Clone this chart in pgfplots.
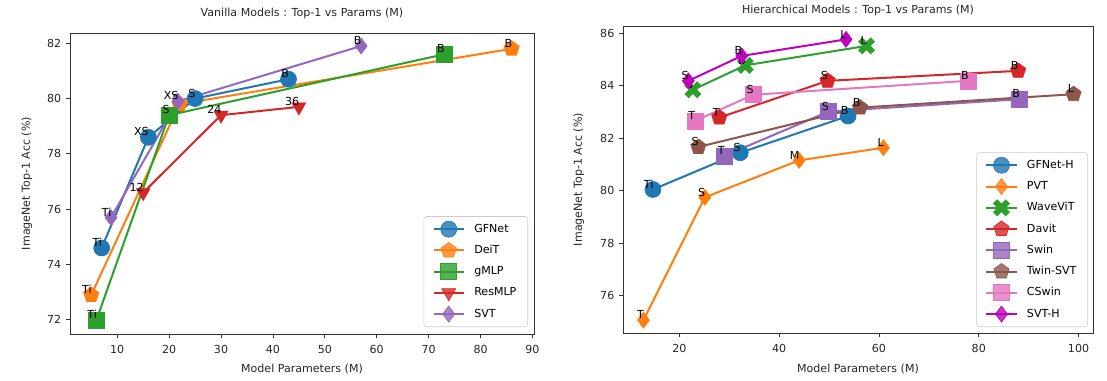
\documentclass[border=0pt]{standalone}
\usepackage{fontspec}
\setmainfont{DejaVu Sans}
\usepackage{pgfplots}
\pgfplotsset{compat=1.18}
\definecolor{cblue}{HTML}{1F77B4}
\definecolor{corange}{HTML}{FF7F0E}
\definecolor{cgreen}{HTML}{2CA02C}
\definecolor{cred}{HTML}{D62728}
\definecolor{cpurple}{HTML}{9467BD}
\definecolor{cbrown}{HTML}{8C564B}
\definecolor{cpink}{HTML}{E377C2}
\definecolor{cmag}{HTML}{BF00BF}
\pgfdeclareplotmark{Xfill}{%
  \pgfsetlinewidth{0.75\pgfplotmarksize}%
  \pgfsetbuttcap
  \pgfpathmoveto{\pgfpoint{-0.8\pgfplotmarksize}{-0.8\pgfplotmarksize}}%
  \pgfpathlineto{\pgfpoint{0.8\pgfplotmarksize}{0.8\pgfplotmarksize}}%
  \pgfpathmoveto{\pgfpoint{-0.8\pgfplotmarksize}{0.8\pgfplotmarksize}}%
  \pgfpathlineto{\pgfpoint{0.8\pgfplotmarksize}{-0.8\pgfplotmarksize}}%
  \pgfusepathqstroke
}
\newcommand\fs{\fontsize{8.3}{10}\selectfont}
\pgfplotsset{
  mystyle/.style={
    scale only axis,
    clip=false,
    axis line style={black!80, line width=0.6pt},
    tick pos=left, tick align=outside, major tick length=3pt,
    every tick/.style={black!80, line width=0.6pt},
    tick label style={font=\fs, text=black!85},
    xticklabel style={yshift=-2pt},
    /pgf/number format/assume math mode=true,
    label style={font=\fs, text=black!85},
    title style={font=\fs, text=black!85, at={(axis description cs:0.5,1)}, anchor=base, inner sep=0pt},
    xlabel style={at={(axis description cs:0.5,0)}, anchor=base, inner sep=0pt},
    legend style={font=\fs, draw=black!20, rounded corners=2pt, fill=white, fill opacity=0.8, text opacity=1, cells={anchor=west}, row sep=4.0pt, inner xsep=6.5pt, inner ysep=3.5pt, /tikz/every odd column/.append style={column sep=5pt}},
    legend image code/.code={\draw[mark repeat=2,mark phase=2] plot coordinates {(0cm,0cm) (0.4cm,0cm) (0.8cm,0cm)};},
    every axis plot/.append style={line width=1.5pt, mark size=6pt},
    nodes near coords, point meta=explicit symbolic,
    nodes near coords style={font=\fs, text=black, anchor=base east, inner sep=0pt, xshift=0.5pt, yshift=1pt, line width=0.4pt},
  }
}
\begin{document}
\begin{tikzpicture}
\useasboundingbox (0,0) rectangle (830.25pt,-285.75pt);
% ---------------- left ----------------
\begin{axis}[mystyle,
  at={(52.5pt,-250.5pt)}, anchor=south west,
  width=348pt, height=225.75pt,
  xmin=0.9, xmax=90.3, ymin=71.49, ymax=82.37,
  xtick={10,20,...,90}, ytick={72,74,...,82},
  title={Vanilla Models : Top-1 vs Params (M)},
  title style={yshift=6pt},
  xlabel={Model Parameters (M)},
  xlabel style={yshift=-28.5pt},
  ylabel={ImageNet Top-1 Acc (\%)},
  ylabel style={at={(axis description cs:-0.093,0.5)}, anchor=center},
  legend style={at={(1,0)}, anchor=south east, xshift=-4.5pt, yshift=5.25pt},
]
\addplot[color=cblue, mark=*, mark options={solid, line width=0.5pt}] table[meta=l] {
x y l
7 74.6 Ti
16 78.6 XS
25 80.0 S
43 80.7 B
};
\addlegendentry{GFNet}
\addplot[color=corange, mark=pentagon*, mark options={solid, line width=0.5pt}] table[meta=l] {
x y l
5 72.9 Ti
22 79.8 S
86 81.8 B
};
\addlegendentry{DeiT}
\addplot[color=cgreen, mark=square*, mark options={solid, line width=0.5pt}] table[meta=l] {
x y l
6 72.0 Ti
20 79.4 S
73 81.6 B
};
\addlegendentry{gMLP}
\addplot[color=cred, mark=triangle*, mark options={solid, rotate=180, line width=0.5pt}] table[meta=l] {
x y l
15 76.6 12
30 79.4 24
45 79.7 36
};
\addlegendentry{ResMLP}
\addplot[color=cpurple, mark=diamond*, mark options={solid, line width=0.5pt}] table[meta=l] {
x y l
8.8 75.7 Ti
21.7 79.9 XS
57 81.9 B
};
\addlegendentry{SVT}
\end{axis}
% ---------------- right ----------------
\begin{axis}[mystyle,
  at={(467.25pt,-249.75pt)}, anchor=south west,
  width=352.5pt, height=230.25pt,
  xmin=8.7, xmax=102.9, ymin=74.58, ymax=86.28,
  xtick={20,40,...,100}, ytick={76,78,...,86},
  title={Hierarchical Models : Top-1 vs Params (M)},
  title style={yshift=3pt},
  xlabel={Model Parameters (M)},
  xlabel style={yshift=-29.25pt},
  ylabel={ImageNet Top-1 Acc (\%)},
  ylabel style={at={(axis description cs:-0.094,0.5)}, anchor=center},
  legend style={at={(1,0)}, anchor=south east, xshift=-3.75pt, yshift=4.5pt},
]
\addplot[color=cblue, mark=*, mark options={solid, line width=0.5pt}] table[meta=l] {
x y l
14.7 80.05 Ti
32.2 81.45 S
53.8 82.85 B
};
\addlegendentry{GFNet-H}
\addplot[color=corange, mark=diamond*, mark options={solid, line width=0.5pt}] table[meta=l] {
x y l
12.8 75.07 T
25.1 79.75 S
44.0 81.16 M
60.9 81.64 L
};
\addlegendentry{PVT}
\addplot[color=cgreen, mark=Xfill, mark options={solid}] table[meta=l] {
x y l
22.7 83.85 S
33.2 84.78 B
57.5 85.52 L
};
\addlegendentry{WaveViT}
\addplot[color=cred, mark=pentagon*, mark options={solid, line width=0.5pt}] table[meta=l] {
x y l
28.0 82.79 T
49.7 84.19 S
87.9 84.57 B
};
\addlegendentry{Davit}
\addplot[color=cpurple, mark=square*, mark options={solid, line width=0.5pt}] table[meta=l] {
x y l
29.0 81.33 T
49.9 83.02 S
88.2 83.49 B
};
\addlegendentry{Swin}
\addplot[color=cbrown, mark=pentagon*, mark options={solid, line width=0.5pt}] table[meta=l] {
x y l
23.8 81.67 S
56.2 83.17 B
99.0 83.68 L
};
\addlegendentry{Twin-SVT}
\addplot[color=cpink, mark=square*, mark options={solid, line width=0.5pt}] table[meta=l] {
x y l
23.1 82.66 T
34.8 83.66 S
77.9 84.19 B
};
\addlegendentry{CSwin}
\addplot[color=cmag, mark=diamond*, mark options={solid, line width=0.5pt}] table[meta=l] {
x y l
21.8 84.19 S
32.5 85.14 B
53.4 85.77 L
};
\addlegendentry{SVT-H}
\end{axis}
\end{tikzpicture}
\end{document}
